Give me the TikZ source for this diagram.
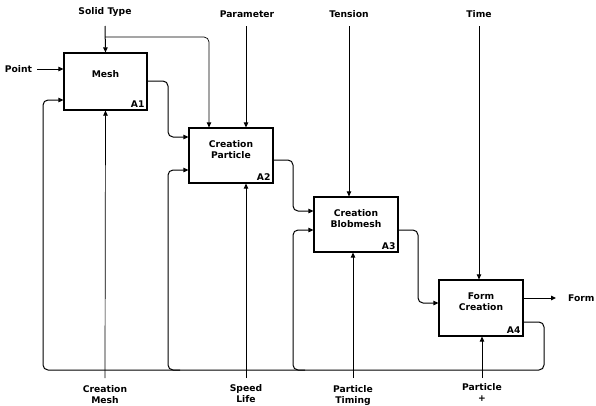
\documentclass[tikz,border=0pt]{standalone}
\usepackage{fontspec}
\setmainfont{DejaVu Sans}
\usetikzlibrary{arrows.meta}
\begin{document}
\begin{tikzpicture}[x=1pt,y=-1pt,
 lbl/.style={font=\bfseries\fontsize{9.2}{11}\selectfont, align=center, inner sep=0pt},
 box/.style={draw, line width=1.2pt, inner sep=0pt, fill=white},
 flow/.style={line width=1pt, rounded corners=5pt, -{Triangle[length=5pt,width=4.5pt]}},
 thinflow/.style={flow, line width=0.7pt}]
\useasboundingbox (0,0) rectangle (596,405);

% boxes
\node[box, minimum width=83pt, minimum height=57pt] (a1) at (105.5,81.5) {};
\node[box, minimum width=84pt, minimum height=55pt] (a2) at (231,155.5) {};
\node[box, minimum width=84pt, minimum height=55pt] (a3) at (356,224.5) {};
\node[box, minimum width=84pt, minimum height=56pt] (a4) at (481,308) {};

\node[lbl] (t1) at ([yshift=-22pt]a1.north) {Mesh};
\node[lbl] (t2) at ([yshift=-22pt]a2.north) {Creation\\Particle};
\node[lbl] (t3) at ([yshift=-22pt]a3.north) {Creation\\Blobmesh};
\node[lbl] (t4) at ([yshift=-22pt]a4.north) {Form\\Creation};

\node[lbl, anchor=south east] (n1) at ([xshift=-3pt,yshift=2.5pt]a1.south east) {A1};
\node[lbl, anchor=south east] (n2) at ([xshift=-3pt,yshift=2.5pt]a2.south east) {A2};
\node[lbl, anchor=south east] (n3) at ([xshift=-3pt,yshift=2.5pt]a3.south east) {A3};
\node[lbl, anchor=south east] (n4) at ([xshift=-3pt,yshift=2.5pt]a4.south east) {A4};

% outer labels
\node[lbl] (lsolid) at (105,12) {Solid Type};
\node[lbl] (lparam) at (247,14) {Parameter};
\node[lbl] (ltens) at (349,14) {Tension};
\node[lbl] (ltime) at (479,14) {Time};
\node[lbl] (lpoint) at (18.5,69) {Point};
\node[lbl, anchor=west] (lform) at (568,298.5) {Form};
\node[lbl] (lcm) at (105,394.5) {Creation\\Mesh};
\node[lbl] (lsl) at (246,393.5) {Speed\\Life};
\node[lbl] (lpt) at (353,395) {Particle\\Timing};
\node[lbl] (lpp) at (482,392.5) {Particle\\+};

% free-end coordinates
\coordinate (cs) at (105,26);
\coordinate (csb) at (105,37);
\coordinate (cp) at (246,26);
\coordinate (ct) at (349,26);
\coordinate (cti) at (479,26);
\coordinate (cpt) at (37,69);
\coordinate (cf) at (556,298);
\coordinate (bcm) at (105,378);
\coordinate (bsl) at (246,378);
\coordinate (bpt) at (353,378);
\coordinate (bpp) at (482,378);
\coordinate (br2) at (180,370);
\coordinate (br3) at (305,370);

% controls
\draw[flow] (cs) -- (a1.north);
\draw[thinflow] (csb) -| (a2.north -| 209,0);
\draw[flow] (cp) -- (a2.north -| cp);
\draw[thinflow] (ct) -- (a3.north -| ct);
\draw[thinflow] (cti) -- (a4.north -| cti);
% input
\draw[flow] (cpt) -- (a1.west |- cpt);
% outputs between boxes
\draw[flow] (a1.east |- 0,81) -| (168,137) -- (a2.west |- 0,137);
\draw[flow] (a2.east |- 0,160) -| (293,211) -- (a3.west |- 0,211);
\draw[flow] (a3.east |- 0,230) -| (418,303) -- (a4.west |- 0,303);
\draw[flow] (a4.east |- cf) -- (cf);
% feedback
\draw[flow] (a4.east |- 0,322) -| (544,370) -| (43,100) -- (a1.west |- 0,100);
\draw[flow] (br2) -| (168,170) -- (a2.west |- 0,170);
\draw[flow] (br3) -| (293,230) -- (a3.west |- 0,230);
% mechanisms
\draw[thinflow] (bcm) -- (a1.south);
\draw[flow] (bsl) -- (a2.south -| bsl);
\draw[flow] (bpt) -- (a3.south -| bpt);
\draw[flow] (bpp) -- (a4.south -| bpp);
\end{tikzpicture}
\end{document}
